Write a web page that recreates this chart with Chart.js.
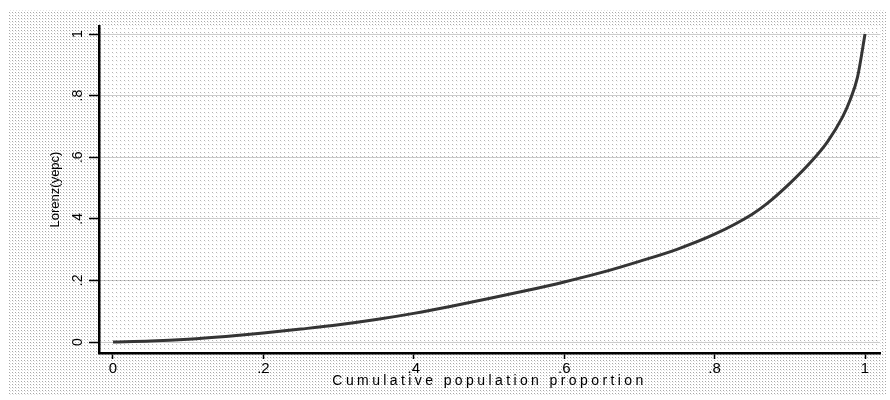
<!DOCTYPE html>
<html>
<head>
<meta charset="utf-8">
<script src="https://cdn.jsdelivr.net/npm/chart.js@4"></script>
<style>
  html, body { margin: 0; padding: 0; background: #fff; }
  #wrap { width: 890px; height: 400px; }
</style>
</head>
<body>
<div id="wrap"><canvas id="c" width="890" height="400"></canvas></div>
<script>
// Cumulative population proportion (x) and Lorenz ordinate (y)
const popShare = [0, 0.05, 0.1, 0.15, 0.2, 0.25, 0.3, 0.35, 0.4, 0.45, 0.5, 0.55, 0.6, 0.65, 0.7, 0.75, 0.8, 0.85, 0.87, 0.9, 0.93, 0.95, 0.97, 0.98, 0.99, 1];
const lorenzValues = [0, 0.003, 0.009, 0.018, 0.029, 0.042, 0.056, 0.073, 0.093, 0.116, 0.141, 0.167, 0.195, 0.226, 0.262, 0.301, 0.35, 0.415, 0.45, 0.515, 0.59, 0.65, 0.73, 0.785, 0.86, 1];
const tickValues = [0, 0.2, 0.4, 0.6, 0.8, 1];
const tickLabels = ['0', '.2', '.4', '.6', '.8', '1'];
const xTitle = 'Cumulative population proportion';
const yTitle = 'Lorenz(yepc)';

function makePattern(step, dot, shade) {
  const c = document.createElement('canvas');
  c.width = step; c.height = step;
  const g = c.getContext('2d');
  g.fillStyle = '#ffffff'; g.fillRect(0, 0, step, step);
  g.fillStyle = shade; g.fillRect(1, 1, 1, 1);
  g.fillStyle = dot; g.fillRect(0, 0, 1, 1);
  return c;
}

const bgPlugin = {
  id: 'dottedBg',
  beforeDraw(chart) {
    const ctx = chart.ctx;
    const a = chart.chartArea;
    ctx.save();
    ctx.fillStyle = '#ffffff';
    ctx.fillRect(0, 0, chart.width, chart.height);
    ctx.fillStyle = ctx.createPattern(makePattern(3, '#a8a8a8', '#e4e4e4'), 'repeat');
    ctx.fillRect(8, 10, chart.width - 12, chart.height - 14);
    ctx.fillStyle = ctx.createPattern(makePattern(4, '#b4b4b4', '#eeeeee'), 'repeat');
    ctx.fillRect(a.left, a.top, a.right - a.left, a.bottom - a.top);
    ctx.restore();
    const xs = chart.scales.x;
    if (xs && !xs._spaced) {
      const proto = Object.getPrototypeOf(xs);
      xs.drawTitle = function () {
        const old = this.ctx.letterSpacing;
        this.ctx.letterSpacing = '3.4px';
        proto.drawTitle.call(this);
        this.ctx.letterSpacing = old || '0px';
      };
      xs._spaced = true;
    }
  }
};

new Chart(document.getElementById('c'), {
  type: 'scatter',
  data: {
    datasets: [{
      data: popShare.map((x, i) => ({ x: x, y: lorenzValues[i] })),
      showLine: true,
      borderColor: '#353535',
      borderWidth: 3,
      pointRadius: 0,
      cubicInterpolationMode: 'monotone',
      fill: false
    }]
  },
  options: {
    responsive: false,
    animation: false,
    devicePixelRatio: 1,
    layout: { padding: { top: 26, right: 10, bottom: 0, left: 0 } },
    plugins: { legend: { display: false }, tooltip: { enabled: false } },
    scales: {
      x: {
        type: 'linear',
        min: -0.0186,
        max: 1.0199,
        afterBuildTicks: (s) => { s.ticks = tickValues.map(v => ({ value: v })); },
        afterFit: (s) => { s.height = 47; },
        ticks: {
          autoSkip: false,
          maxRotation: 0,
          padding: 1,
          color: '#000',
          font: { family: 'Liberation Sans, Arial, sans-serif', size: 15 },
          callback: (v, i) => tickLabels[i]
        },
        grid: { drawOnChartArea: false, tickLength: 6, tickColor: '#000', tickWidth: 1.5 },
        border: { display: true, color: '#000', width: 2.5 },
        title: {
          display: true,
          text: xTitle,
          color: '#000',
          font: { family: 'Liberation Sans, Arial, sans-serif', size: 14 },
          padding: { top: 0, bottom: 10.6 }
        }
      },
      y: {
        type: 'linear',
        min: -0.0357,
        max: 1.026,
        afterBuildTicks: (s) => { s.ticks = tickValues.map(v => ({ value: v })); },
        afterFit: (s) => { s.width = 99; },
        ticks: {
          autoSkip: false,
          minRotation: 90,
          maxRotation: 90,
          crossAlign: 'center',
          padding: 5,
          color: '#000',
          font: { family: 'Liberation Sans, Arial, sans-serif', size: 14 },
          callback: (v, i) => tickLabels[i]
        },
        grid: {
          drawOnChartArea: true,
          color: 'rgba(0,0,0,0.2)',
          lineWidth: 1,
          tickLength: 10,
          tickColor: '#000',
          tickWidth: 1.5
        },
        border: { display: true, color: '#000', width: 2.5 },
        title: {
          display: true,
          text: yTitle,
          color: '#000',
          font: { family: 'Liberation Sans, Arial, sans-serif', size: 13 },
          padding: { top: 48, bottom: 0 }
        }
      }
    }
  },
  plugins: [bgPlugin]
});
</script>
</body>
</html>
